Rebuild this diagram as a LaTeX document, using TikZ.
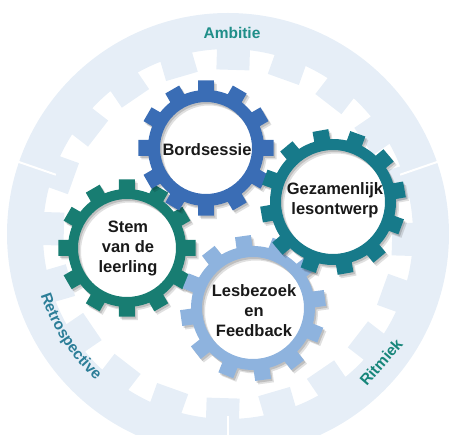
\documentclass[tikz,border=0pt]{standalone}
\usepackage{fontspec}
\setmainfont{Liberation Sans}
\usetikzlibrary{decorations.text}
\definecolor{ringbg}{HTML}{E6EEF7}
\definecolor{cogA}{HTML}{3A6DB5}
\definecolor{cogB}{HTML}{177A8A}
\definecolor{cogC}{HTML}{187D72}
\definecolor{cogD}{HTML}{8EB3DE}
\definecolor{lblA}{HTML}{1F8E89}
\definecolor{lblB}{HTML}{2C7E98}
\definecolor{lblC}{HTML}{17867A}
\newcommand{\lblfont}{\bfseries\fontsize{15.5}{18}\selectfont}
% #1 centre, #2 plain circle radius, #3 base radius, #4 tooth radius, #5 rotation, #6 half tooth width, #7 fill options, #8 teeth
\newcommand{\cog}[8]{%
  \fill[shift={#1}, even odd rule, #7] (0,0) circle[radius=#2]
    ({#5+asin(#6/#3)}:#3)
    \foreach \k in {1,...,#8} {
      arc[start angle={#5+(\k-1)*360/#8+asin(#6/#3)}, end angle={#5+\k*360/#8-asin(#6/#3)}, radius=#3]
      -- ({#5+\k*360/#8-asin(#6/#4)}:#4)
      -- ({#5+\k*360/#8+asin(#6/#4)}:#4)
      -- ({#5+\k*360/#8+asin(#6/#3)}:#3)
    } -- cycle;}
% #1 x, #2 y, #3 hole radius, #4 ring radius, #5 tip radius, #6 rotation, #7 colour
\newcommand{\gear}[7]{%
  \cog{(#1+3,#2-3.5)}{#3}{#4}{#5}{#6}{8}{black,opacity=.12}{12}
  \cog{(#1+1.5,#2-2)}{#3}{#4}{#5}{#6}{8}{black,opacity=.15}{12}
  \cog{(#1,#2)}{#3}{#4}{#5}{#6}{8}{#7}{12}}
\tikzset{
  geartext/.style={align=center, text=black!90, font=\bfseries\fontsize{16.5}{20}\selectfont},
  ringlabel/.style={font=\lblfont}
}
\begin{document}
\begin{tikzpicture}[x=1pt,y=1pt]
\useasboundingbox (-228,-201) rectangle (222,234);
% background internal gear ring
\cog{(0,0)}{221}{185}{165}{88.3}{16.5}{ringbg}{20}
\foreach \a in {19,161,270} \draw[white, line width=2pt] (\a:182) -- (\a:226);
% labels on the ring
\node[ringlabel, text=lblA] (amb) at (4,201) {Ambitie};
\path[decorate, decoration={text along path, text={|\lblfont|Retrospective}, text align=center, text color=lblB}]
  (190:197) arc[start angle=190, end angle=236, radius=197];
\node[ringlabel, text=lblC, rotate=49] (rit) at (153,-128) {Ritmiek};
% gears
\gear{-101}{-14}{49}{59}{69}{0}{cogC}
\gear{-22}{86}{46}{58}{68}{0}{cogA}
\gear{25}{-74}{51}{62}{73}{8}{cogD}
\gear{105}{32}{52}{63}{73}{10}{cogB}
% gear texts
\node[geartext] (bord) at (-21,84) {Bordsessie};
\node[geartext] (gez) at (107,34) {Gezamenlijk\\lesontwerp};
\node[geartext] (stem) at (-100,-14) {Stem\\van de\\leerling};
\node[geartext] (les) at (26,-77) {Lesbezoek\\en\\Feedback};
\end{tikzpicture}
\end{document}
